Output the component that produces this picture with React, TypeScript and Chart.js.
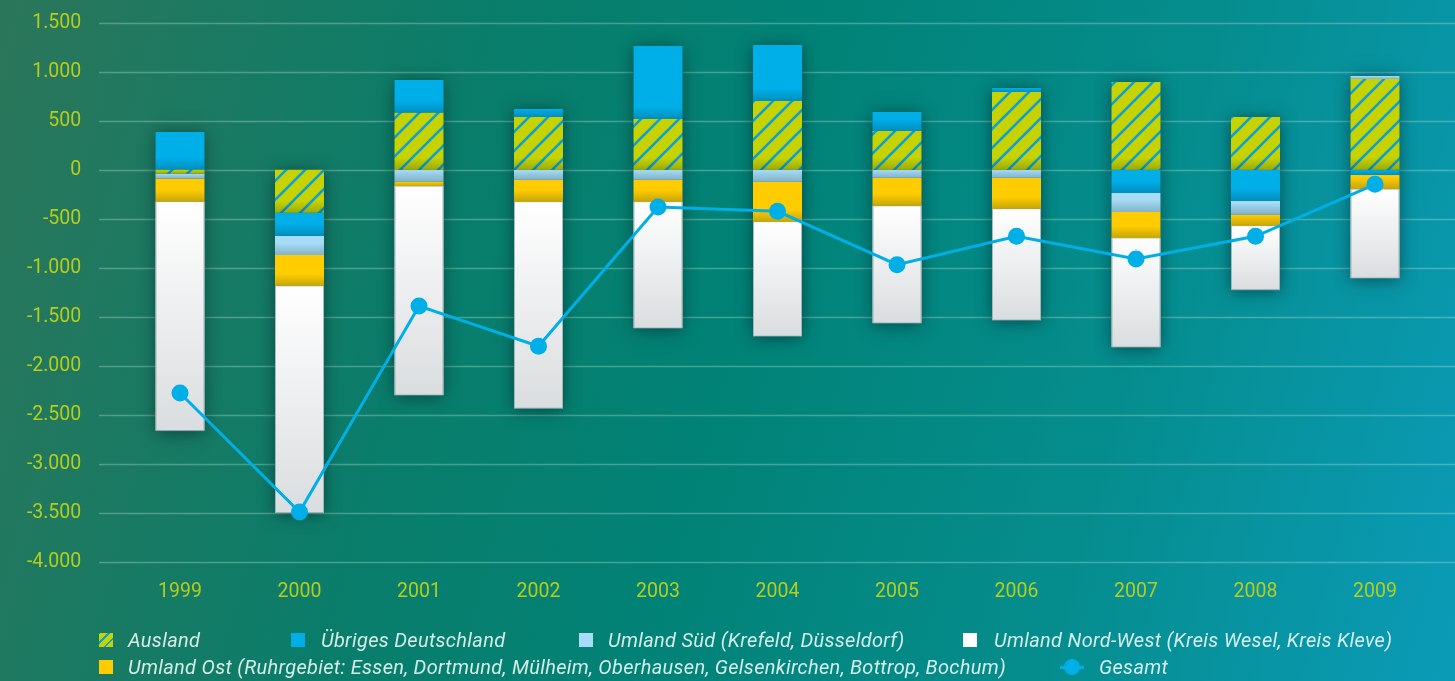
import React, { useEffect, useRef } from "react";
import { Chart, registerables } from "chart.js";

Chart.register(...registerables);

const years = ["1999", "2000", "2001", "2002", "2003", "2004", "2005", "2006", "2007", "2008", "2009"];
const ausland = [-40, -440, 580, 537, 517, 701, 395, 793, 895, 537, 925];
const uebriges = [385, -235, 336, 82, 745, 571, 194, 41, -237, -316, -55];
const sued = [-50, -195, -122, -102, -102, -122, -82, -82, -194, -143, 31];
const ost = [-235, -315, -45, -224, -224, -408, -286, -316, -265, -112, -143];
const nordwest = [-2337, -2316, -2132, -2107, -1289, -1168, -1196, -1136, -1113, -654, -907];
const gesamt = [-2279, -3493, -1391, -1801, -381, -425, -969, -680, -911, -680, -149];

const labels = {
  ausland: "Ausland",
  uebriges: "Übriges Deutschland",
  sued: "Umland Süd (Krefeld, Düsseldorf)",
  nordwest: "Umland Nord-West (Kreis Wesel, Kreis Kleve)",
  ost: "Umland Ost (Ruhrgebiet: Essen, Dortmund, Mülheim, Oberhausen, Gelsenkirchen, Bottrop, Bochum)",
  gesamt: "Gesamt",
};

const C_GREEN = "#c6d300";
const C_STRIPE = "#0a9fd8";
const C_BLUE = "#00aee8";
const C_LIGHT = "#a6dcf5";
const C_YELLOW = "#ffcc00";
const C_WHITE = "#ffffff";
const TICK_COLOR = "#b6cd1c";

function makeHatch(): CanvasPattern | string {
  const s = 19;
  const c = document.createElement("canvas");
  c.width = s;
  c.height = s;
  const g = c.getContext("2d");
  if (!g) return C_GREEN;
  g.fillStyle = C_GREEN;
  g.fillRect(0, 0, s, s);
  g.strokeStyle = C_STRIPE;
  g.lineWidth = 2.6;
  g.beginPath();
  g.moveTo(-2, s + 2);
  g.lineTo(s + 2, -2);
  g.moveTo(-2, 2);
  g.lineTo(2, -2);
  g.moveTo(s - 2, s + 2);
  g.lineTo(s + 2, s - 2);
  g.stroke();
  const p = g.createPattern(c, "repeat");
  return p || C_GREEN;
}

function fmt(v: number): string {
  const neg = v < 0;
  const a = Math.abs(Math.round(v));
  const s = String(a).replace(/\B(?=(\d{3})+(?!\d))/g, ".");
  return (neg ? "-" : "") + s;
}

const gridPlugin = {
  id: "extGrid",
  beforeDatasetsDraw(chart: any) {
    const ctx = chart.ctx;
    const ys = chart.scales.y;
    ctx.save();
    ctx.strokeStyle = "rgba(200,235,225,0.32)";
    ctx.lineWidth = 1.6;
    ys.ticks.forEach((t: any) => {
      const y = Math.round(ys.getPixelForValue(t.value)) + 0.5;
      ctx.beginPath();
      ctx.moveTo(99, y);
      ctx.lineTo(chart.width, y);
      ctx.stroke();
    });
    const metas = chart.getSortedVisibleDatasetMetas().filter((m: any) => m.type === "bar");
    const n = years.length;
    for (let i = 0; i < n; i++) {
      let top = Infinity, bottom = -Infinity, left = Infinity, right = -Infinity;
      metas.forEach((m: any) => {
        const el = m.data[i];
        if (!el) return;
        const p = el.getProps(["x", "y", "base", "width"], true);
        top = Math.min(top, p.y, p.base);
        bottom = Math.max(bottom, p.y, p.base);
        left = Math.min(left, p.x - p.width / 2);
        right = Math.max(right, p.x + p.width / 2);
      });
      if (!isFinite(top)) continue;
      ctx.save();
      ctx.shadowColor = "rgba(0,35,40,0.6)";
      ctx.shadowBlur = 16;
      ctx.shadowOffsetY = 2;
      ctx.fillStyle = "#0b5a5a";
      ctx.fillRect(left, top, right - left, bottom - top);
      ctx.restore();
    }
    ctx.restore();
  },
  afterDatasetDraw(chart: any, args: any) {
    const meta = args.meta;
    if (meta.type !== "bar") return;
    const ctx = chart.ctx;
    const isWhite = meta.index === 4;
    ctx.save();
    meta.data.forEach((el: any) => {
      const p = el.getProps(["x", "y", "base", "width"], true);
      const top = Math.min(p.y, p.base);
      const bottom = Math.max(p.y, p.base);
      const h = bottom - top;
      if (h < 0.5) return;
      const left = p.x - p.width / 2;
      if (isWhite) {
        const g = ctx.createLinearGradient(0, top, 0, bottom);
        g.addColorStop(0, "rgba(70,85,95,0)");
        g.addColorStop(1, "rgba(70,85,95,0.2)");
        ctx.fillStyle = g;
        ctx.fillRect(left, top, p.width, h);
        ctx.strokeStyle = "rgba(150,170,175,0.8)";
        ctx.lineWidth = 1;
        ctx.strokeRect(left + 0.5, top, p.width - 1, h);
      } else {
        const d = Math.min(h, 12);
        const g = ctx.createLinearGradient(0, bottom - d, 0, bottom);
        g.addColorStop(0, "rgba(0,30,40,0)");
        g.addColorStop(1, "rgba(0,30,40,0.22)");
        ctx.fillStyle = g;
        ctx.fillRect(left, bottom - d, p.width, d);
      }
    });
    ctx.restore();
  },
};

export default function App() {
  const ref = useRef<HTMLCanvasElement | null>(null);

  useEffect(() => {
    document.body.style.margin = "0";
    if (!ref.current) return;
    const hatch = makeHatch();
    const barCommon = {
      type: "bar" as const,
      stack: "s",
      order: 1,
      barPercentage: 0.41,
      categoryPercentage: 1,
      borderWidth: 0,
    };
    const tickFont = { family: "Roboto, 'DejaVu Sans', sans-serif", size: 19.5 };
    const chart = new Chart(ref.current, {
      type: "bar",
      data: {
        labels: years,
        datasets: [
          { ...barCommon, label: labels.ausland, data: ausland, backgroundColor: hatch as any },
          { ...barCommon, label: labels.uebriges, data: uebriges, backgroundColor: C_BLUE },
          { ...barCommon, label: labels.sued, data: sued, backgroundColor: C_LIGHT },
          { ...barCommon, label: labels.ost, data: ost, backgroundColor: C_YELLOW },
          { ...barCommon, label: labels.nordwest, data: nordwest, backgroundColor: C_WHITE },
          {
            type: "line" as const,
            label: labels.gesamt,
            data: gesamt,
            stack: "g",
            order: 0,
            borderColor: C_BLUE,
            borderWidth: 3,
            backgroundColor: C_BLUE,
            pointBackgroundColor: C_BLUE,
            pointBorderWidth: 0,
            pointRadius: 8.5,
            tension: 0,
          } as any,
        ],
      },
      options: {
        animation: false,
        responsive: false,
        maintainAspectRatio: false,
        layout: { padding: { top: 22.7, right: 20.25, bottom: 82.3, left: 0 } },
        plugins: { legend: { display: false }, tooltip: { enabled: false } },
        scales: {
          x: {
            stacked: true,
            grid: { display: false, drawTicks: false },
            border: { display: false },
            afterFit: (s: any) => {
              s.height = 37;
            },
            ticks: {
              color: TICK_COLOR,
              padding: 18.5,
              font: tickFont,
            },
          },
          y: {
            stacked: true,
            min: -4000,
            max: 1500,
            grid: { display: false, drawTicks: true, tickLength: 35 },
            border: { display: false },
            afterFit: (s: any) => {
              s.width = 120.25;
            },
            ticks: {
              stepSize: 500,
              color: TICK_COLOR,
              padding: 4,
              font: tickFont,
              callback: (v: any) => fmt(Number(v)),
            },
          },
        },
      },
      plugins: [gridPlugin],
    });
    return () => chart.destroy();
  }, []);

  const textStyle: React.CSSProperties = {
    position: "absolute",
    fontFamily: "Roboto, 'DejaVu Sans', sans-serif",
    fontStyle: "italic",
    fontSize: 20,
    letterSpacing: "0.3px",
    color: "rgba(235,248,246,0.9)",
    whiteSpace: "nowrap",
    lineHeight: "20px",
  };
  const box = (bg: string): React.CSSProperties => ({
    position: "absolute",
    width: 14,
    height: 14,
    background: bg,
  });
  const hatchCss = `repeating-linear-gradient(-45deg, ${C_GREEN} 0px, ${C_GREEN} 5px, ${C_STRIPE} 5px, ${C_STRIPE} 7px)`;

  const r1 = 640;
  const r2 = 667;

  return (
    <div
      style={{
        position: "relative",
        width: 1455,
        height: 681,
        overflow: "hidden",
        background:
          "linear-gradient(105deg, #2b765a 0%, #0a7d6a 30%, #018276 50%, #058d8e 75%, #0a9bb7 100%)",
      }}
    >
      <canvas ref={ref} width={1455} height={681} style={{ position: "absolute", left: 0, top: 0 }} />
      <div style={{ ...box(hatchCss), left: 99, top: r1 - 7 }} />
      <div style={{ ...textStyle, left: 128, top: r1 - 10 }}>{labels.ausland}</div>
      <div style={{ ...box(C_BLUE), left: 291, top: r1 - 7 }} />
      <div style={{ ...textStyle, left: 321, top: r1 - 10 }}>{labels.uebriges}</div>
      <div style={{ ...box(C_LIGHT), left: 579, top: r1 - 7 }} />
      <div style={{ ...textStyle, left: 608, top: r1 - 10 }}>{labels.sued}</div>
      <div style={{ ...box(C_WHITE), left: 963, top: r1 - 7 }} />
      <div style={{ ...textStyle, left: 994, top: r1 - 10 }}>{labels.nordwest}</div>
      <div style={{ ...box(C_YELLOW), left: 99, top: r2 - 7 }} />
      <div style={{ ...textStyle, left: 128, top: r2 - 10 }}>{labels.ost}</div>
      <div style={{ position: "absolute", left: 1060, top: r2 - 1.5, width: 24, height: 3, background: C_BLUE }} />
      <div
        style={{
          position: "absolute",
          left: 1064,
          top: r2 - 8,
          width: 16,
          height: 16,
          borderRadius: 8,
          background: C_BLUE,
        }}
      />
      <div style={{ ...textStyle, left: 1099, top: r2 - 10 }}>{labels.gesamt}</div>
    </div>
  );
}
